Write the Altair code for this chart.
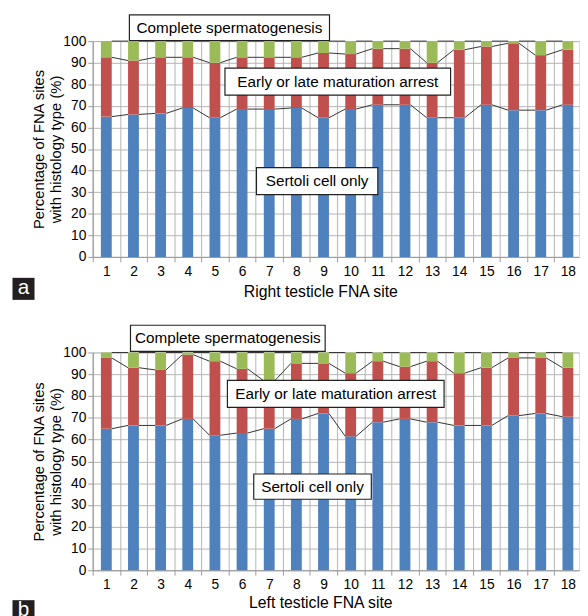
import altair as alt
import pandas as pd

# ---------------- data ----------------
sites = list(range(1, 19))
types = ["Sertoli cell only", "Early or late maturation arrest", "Complete spermatogenesis"]
colors = ["#4F81BD", "#C0504D", "#9BBB59"]

right_sertoli = [65, 66, 66.5, 69, 64.5, 68.5, 68.5, 69, 64.5, 68.5, 70.5, 70.5, 64.5, 64.5, 70.5, 68, 68, 70.5]
right_arrest = [27.5, 25, 26, 23.5, 25.5, 24, 24, 23.5, 30, 25.5, 26, 26, 25.5, 31.5, 27, 31, 25.5, 25.5]
right_complete = [7.5, 9, 7.5, 7.5, 10, 7.5, 7.5, 7.5, 5.5, 6, 3.5, 3.5, 10, 4, 2.5, 1, 6.5, 4]

left_sertoli = [65, 66.5, 66.5, 69.5, 62, 63, 65, 69.5, 72, 61.5, 68, 69.5, 68, 66.5, 66.5, 71, 72, 70.5]
left_arrest = [32.5, 26.5, 25.5, 29.5, 34, 29.5, 22, 25.5, 23, 29, 28, 24, 28, 24, 26.5, 26.5, 25.5, 22.5]
left_complete = [2.5, 7, 8, 1, 4, 7.5, 13, 5, 5, 9.5, 4, 6.5, 4, 9.5, 7, 2.5, 2.5, 7]

y_ticks = list(range(0, 101, 10))
y_title = ["Percentage of FNA sites", "with histology type (%)"]

# annotation boxes (site units, percent units)
right_boxes = {
    "label": ["Complete spermatogenesis", "Early or late maturation arrest", "Sertoli cell only"],
    "x1": [1.85, 5.37, 6.53], "x2": [9.22, 13.68, 11.0],
    "y1": [100.3, 75.0, 28.9], "y2": [112.2, 87.5, 41.4],
}
left_boxes = {
    "label": ["Complete spermatogenesis", "Early or late maturation arrest", "Sertoli cell only"],
    "x1": [1.89, 5.46, 6.43], "x2": [9.06, 13.44, 10.76],
    "y1": [100.5, 74.8, 32.6], "y2": [112.5, 87.2, 44.2],
}
right_badge = {"label": ["a"], "x": [-2.05], "y": [-14.8]}
left_badge = {"label": ["b"], "x": [-2.05], "y": [-18.8]}
right_xtitle = {"label": ["Right testicle FNA site"], "x": [8.9], "y": [-16.3]}
left_xtitle = {"label": ["Left testicle FNA site"], "x": [8.9], "y": [-14.9]}

# ---------------- layout ----------------
W = 493.5
X_DOMAIN = [0.5, 18.41]
BAR_PX = 11
band_px = W / (X_DOMAIN[1] - X_DOMAIN[0])
HB = BAR_PX / 2 / band_px
FONT = "Liberation Sans"
GRID = "#B4B4B4"
AXIS_C = "#9A9A9A"


def panel(sertoli, arrest, complete, xtitle, boxes, badge, height):
    rows = []
    for i, s in enumerate(sites):
        for k, (t, v) in enumerate(zip(types, [sertoli[i], arrest[i], complete[i]])):
            rows.append({"site": s, "type": t, "value": v, "order": k})
    df = pd.DataFrame(rows)

    xs = alt.Scale(domain=X_DOMAIN, nice=False, zero=False, padding=0)
    ys = alt.Scale(domain=[0, 100], nice=False, padding=0)

    # ticks and grid at category boundaries, labels shifted to the category centres
    xaxis = alt.Axis(
        values=[s - 0.5 for s in sites],
        labelExpr="format(datum.value + 0.5, 'd')",
        labelOffset=band_px / 2,
        labelOverlap=False, labelFlush=False, labelBound=False,
        grid=True, gridColor=GRID,
        tickColor=AXIS_C, domainColor=AXIS_C, tickSize=5,
        labelFontSize=14, labelColor="#000", labelPadding=3, labelFont=FONT,
        title=None,
    )
    yaxis = alt.Axis(
        values=y_ticks, grid=True, gridColor=GRID, tickColor=AXIS_C, domainColor=AXIS_C,
        tickSize=5, labelFontSize=14, labelColor="#000", labelFont=FONT, labelPadding=2,
        title=y_title, titleFontSize=15, titleFontWeight="normal", titleColor="#000",
        titleFont=FONT, titlePadding=-1, titleLineHeight=18,
    )

    bars = alt.Chart(df).mark_bar(size=BAR_PX).encode(
        x=alt.X("site:Q", scale=xs, axis=xaxis),
        y=alt.Y("value:Q", stack="zero", scale=ys, axis=yaxis),
        color=alt.Color("type:N", scale=alt.Scale(domain=types, range=colors), legend=None),
        order=alt.Order("order:Q"),
    )

    # series lines connecting segment tops between neighbouring bars
    levels = [
        [sertoli[i] for i in range(len(sites))],
        [sertoli[i] + arrest[i] for i in range(len(sites))],
        [sertoli[i] + arrest[i] + complete[i] for i in range(len(sites))],
    ]
    lrows = []
    for lv in levels:
        for i in range(len(sites) - 1):
            lrows.append({"x": sites[i] + HB, "x2": sites[i + 1] - HB, "y": lv[i], "y2": lv[i + 1]})
    lines = alt.Chart(pd.DataFrame(lrows)).mark_rule(color="#333333", strokeWidth=1).encode(
        x=alt.X("x:Q", scale=xs, axis=xaxis), x2="x2:Q",
        y=alt.Y("y:Q", scale=ys, axis=yaxis), y2="y2:Q",
    )

    bdf = pd.DataFrame(boxes)
    rect = alt.Chart(bdf).mark_rect(fill="white", stroke="#222", strokeWidth=1.2).encode(
        x=alt.X("x1:Q", scale=xs, axis=xaxis), x2="x2:Q",
        y=alt.Y("y1:Q", scale=ys, axis=yaxis), y2="y2:Q",
    )
    text = alt.Chart(bdf).transform_calculate(
        xc="(datum.x1 + datum.x2) / 2", yc="(datum.y1 + datum.y2) / 2"
    ).mark_text(font=FONT, fontSize=15.5, color="#000", baseline="middle", align="center").encode(
        x=alt.X("xc:Q", scale=xs, axis=xaxis),
        y=alt.Y("yc:Q", scale=ys, axis=yaxis),
        text="label:N",
    )

    tdf = pd.DataFrame(xtitle)
    xt = alt.Chart(tdf).mark_text(font=FONT, fontSize=16, color="#000", baseline="middle", align="center").encode(
        x=alt.X("x:Q", scale=xs, axis=xaxis),
        y=alt.Y("y:Q", scale=ys, axis=yaxis),
        text="label:N",
    )

    gdf = pd.DataFrame(badge)
    brect = alt.Chart(gdf).mark_square(size=500, color="#231F20", opacity=1).encode(
        x=alt.X("x:Q", scale=xs, axis=xaxis),
        y=alt.Y("y:Q", scale=ys, axis=yaxis),
    )
    btext = alt.Chart(gdf).mark_text(font=FONT, fontSize=21, color="white", baseline="middle", dy=-1).encode(
        x=alt.X("x:Q", scale=xs, axis=xaxis),
        y=alt.Y("y:Q", scale=ys, axis=yaxis),
        text="label:N",
    )

    return alt.layer(bars, lines, rect, text, xt, brect, btext).properties(width=W, height=height)


top = panel(right_sertoli, right_arrest, right_complete, right_xtitle, right_boxes, right_badge, 219)
bottom = panel(left_sertoli, left_arrest, left_complete, left_xtitle, left_boxes, left_badge, 221)

chart = alt.vconcat(top, bottom, spacing=23).properties(
    padding={"left": 4, "top": 1, "right": 0, "bottom": 0}
).configure_view(stroke=None).configure(background="white", font=FONT)

chart.save("out.html", embed_options={"renderer": "svg", "actions": False})
